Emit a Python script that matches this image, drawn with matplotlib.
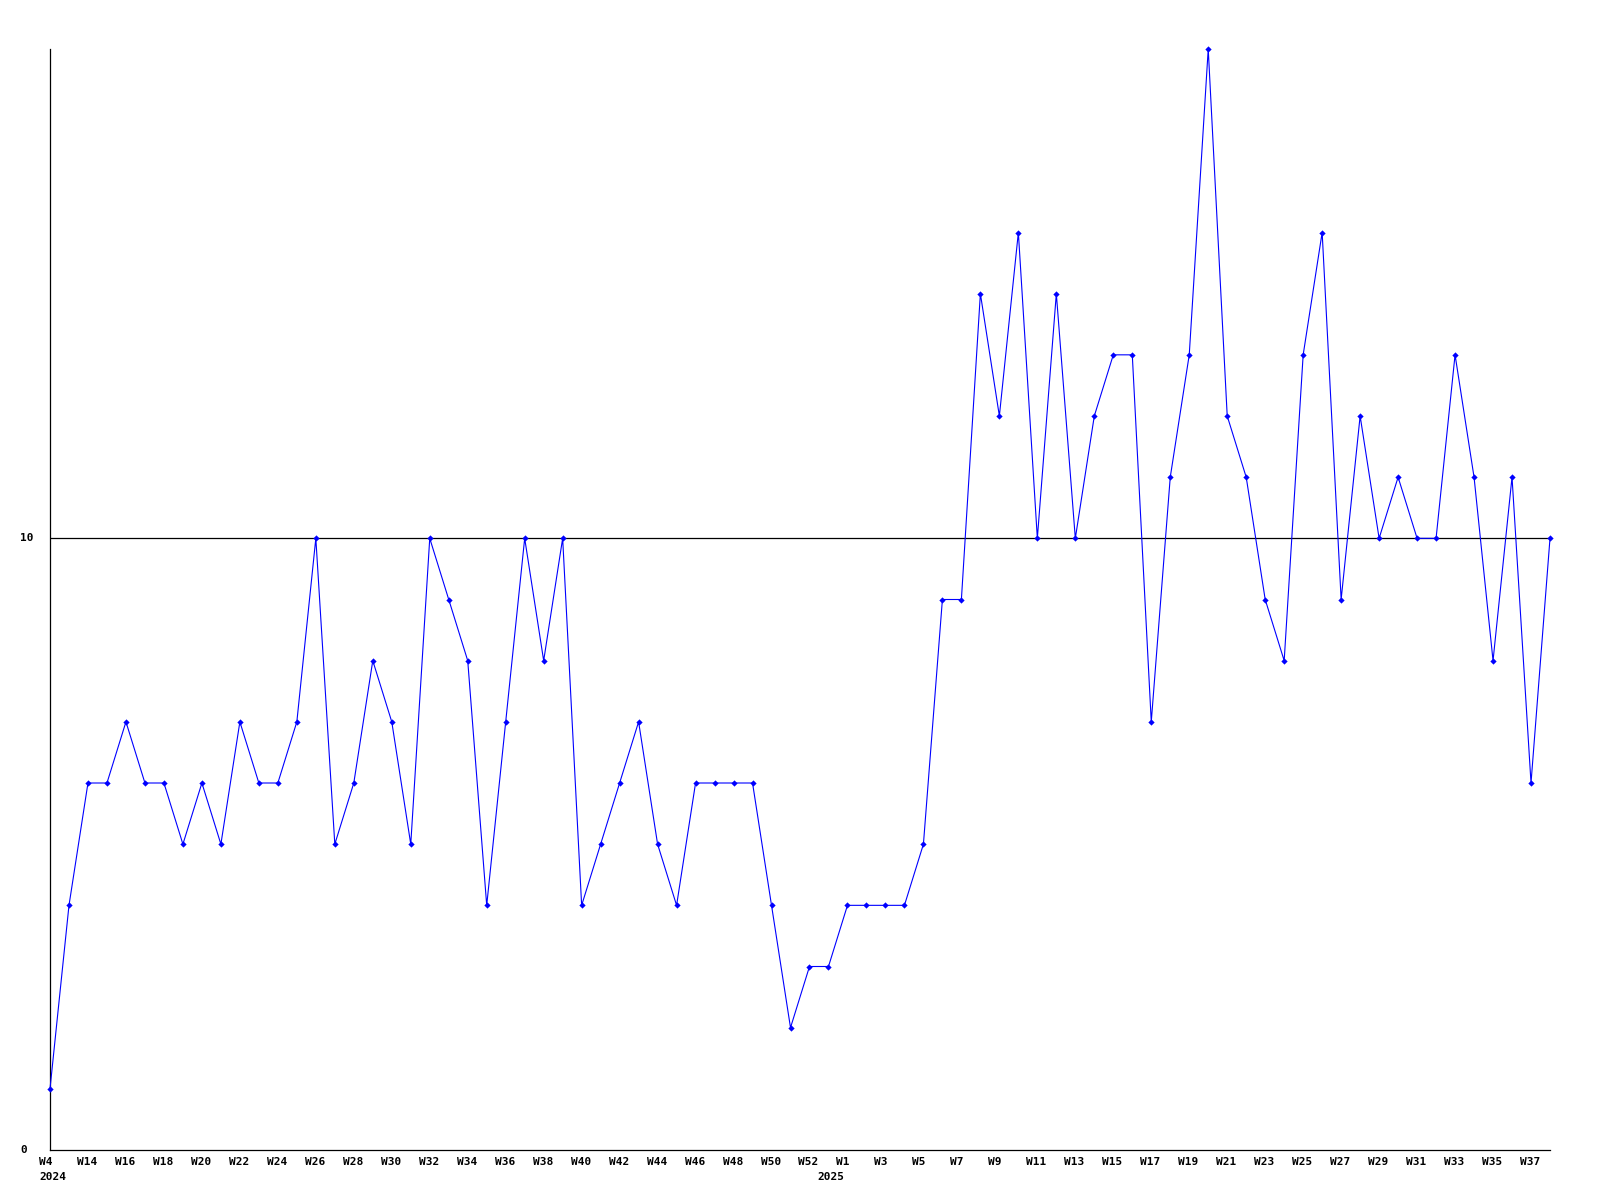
import matplotlib
matplotlib.use("Agg")
import matplotlib.pyplot as plt
from matplotlib.transforms import ScaledTranslation, blended_transform_factory

# Weekly values (2024 -> 2025)
values = [1, 4, 6, 6, 7, 6, 6, 5, 6, 5,
          7, 6, 6, 7, 10, 5, 6, 8, 7, 5,
          10, 9, 8, 4, 7, 10, 8, 10, 4, 5,
          6, 7, 5, 4, 6, 6, 6, 6, 4, 2,
          3, 3, 4, 4, 4, 4, 5, 9, 9, 14,
          12, 15, 10, 14, 10, 12, 13, 13, 7, 11,
          13, 18, 12, 11, 9, 8, 13, 15, 9, 12,
          10, 11, 10, 10, 13, 11, 8, 11, 6, 10]

week_labels = ["W4", "W14", "W16", "W18", "W20", "W22", "W24", "W26", "W28", "W30",
               "W32", "W34", "W36", "W38", "W40", "W42", "W44", "W46", "W48", "W50",
               "W52", "W1", "W3", "W5", "W7", "W9", "W11", "W13", "W15", "W17",
               "W19", "W21", "W23", "W25", "W27", "W29", "W31", "W33", "W35", "W37"]
week_label_idx = [0, 2, 4, 6, 8, 10, 12, 14, 16, 18,
                  20, 22, 24, 26, 28, 30, 32, 34, 36, 38,
                  40, 42, 44, 46, 48, 50, 52, 54, 56, 58,
                  60, 62, 64, 66, 68, 70, 72, 74, 76, 78]
year_labels = ["2024", "2025"]
year_label_idx = [0, 41]
y_ticks = [0, 10]

DPI = 100
fig = plt.figure(figsize=(16, 12), dpi=DPI)
W, H = 1600, 1200
left, right, top, bottom = 50, 1550, 49, 1150
ax = fig.add_axes([left / W, (H - bottom) / H, (right - left) / W, (bottom - top) / H])

x = list(range(len(values)))
ax.plot(x, values, color="#0000ff", lw=0.8, marker="D", markersize=3.2,
        markeredgewidth=0, markerfacecolor="#0000ff", clip_on=False, zorder=3)

ax.set_xlim(0, len(values) - 1)
ax.set_ylim(0, 18)

for s in ["top", "right"]:
    ax.spines[s].set_visible(False)
for s in ["left", "bottom"]:
    ax.spines[s].set_linewidth(0.9)
    ax.spines[s].set_color("black")

font = dict(family="DejaVu Sans Mono", weight="bold", size=8)

# y ticks
ax.set_yticks(y_ticks)
ax.set_yticklabels([])
ax.tick_params(axis="both", length=0)
ax.axhline(10, color="black", lw=0.9, zorder=2)
ytrans = blended_transform_factory(fig.transFigure, ax.transData)
for v in y_ticks:
    ax.text(20 / W, v, str(v), transform=ytrans, ha="left", va="center", **font)

# x labels
ax.set_xticks([])
off = ScaledTranslation(-11 / DPI, 0, fig.dpi_scale_trans)
xtrans = blended_transform_factory(ax.transData, fig.transFigure) + off
for i, lab in zip(week_label_idx, week_labels):
    ax.text(i, (H - 1157) / H, lab, transform=xtrans, ha="left", va="top", clip_on=False, **font)
for i, lab in zip(year_label_idx, year_labels):
    ax.text(i, (H - 1172) / H, lab, transform=xtrans, ha="left", va="top", clip_on=False, **font)

fig.savefig("out.png", dpi=DPI)
